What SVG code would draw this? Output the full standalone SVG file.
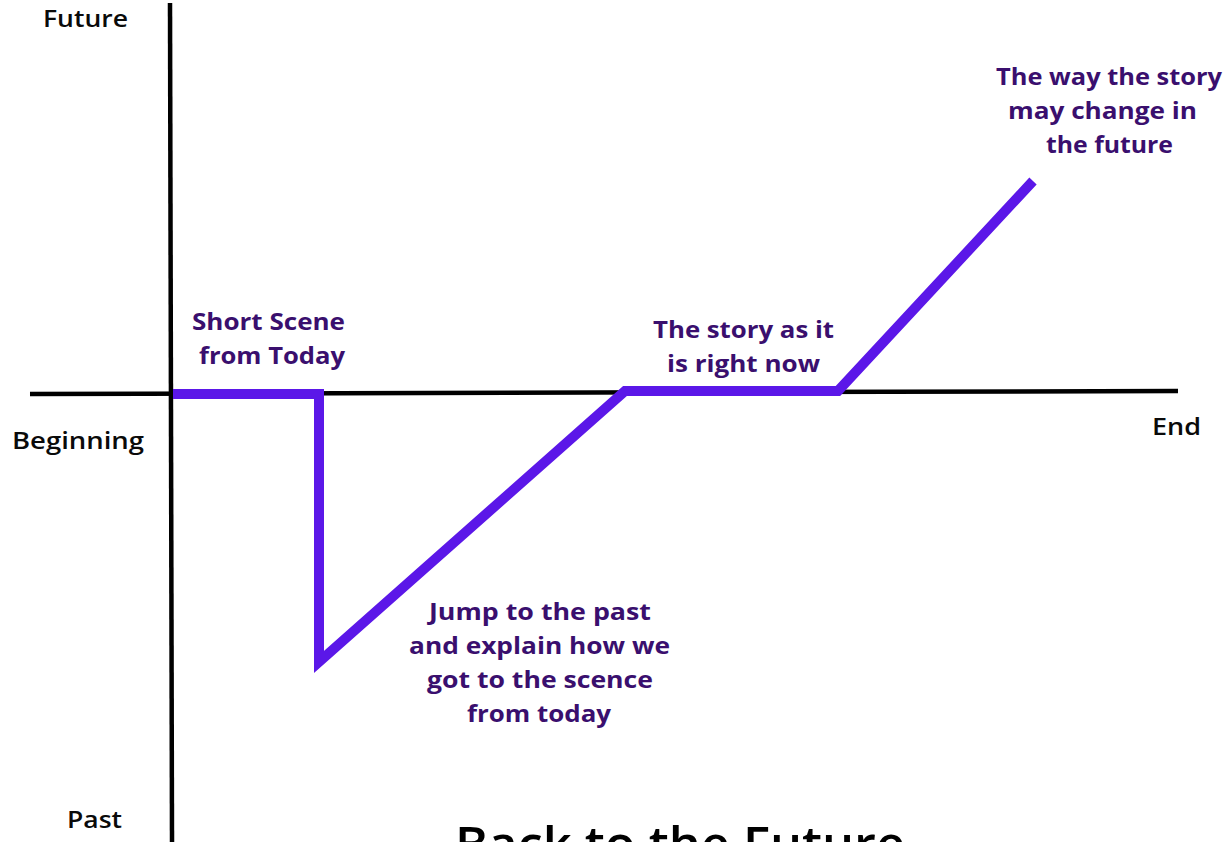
<svg xmlns="http://www.w3.org/2000/svg" width="1230" height="842" viewBox="0 0 1230 842">
<style>
.axis{stroke:#000;stroke-width:4.5;fill:none}
.path{stroke:#5b17e8;stroke-width:10;fill:none;stroke-linejoin:miter;stroke-linecap:butt}
.ax{font-family:"Open Sans","Liberation Sans",sans-serif;font-weight:600;font-size:24px;fill:#0a0a0a}
.lbl{font-family:"Open Sans","Liberation Sans",sans-serif;font-weight:700;font-size:24px;fill:#3a0f6e;text-anchor:middle}
.title{font-family:"Open Sans","Liberation Sans",sans-serif;font-weight:600;font-size:48px;fill:#000;text-anchor:middle}
</style>
<rect width="1230" height="842" fill="#fff"/>
<g id="axes">
<line class="axis" x1="170" y1="3" x2="172" y2="842"/>
<line class="axis" x1="30" y1="394" x2="1178" y2="391"/>
</g>
<g id="connectors">
<polyline class="path" points="173,394 319,394 319,662 625,391 838,391 1033,181"/>
</g>
<g id="axis-labels">
<text class="ax" x="43" y="27" textLength="85" lengthAdjust="spacingAndGlyphs">Future</text>
<text class="ax" x="12" y="449" textLength="132" lengthAdjust="spacingAndGlyphs">Beginning</text>
<text class="ax" x="1152" y="435" textLength="49" lengthAdjust="spacingAndGlyphs">End</text>
<text class="ax" x="67" y="828" textLength="55" lengthAdjust="spacingAndGlyphs">Past</text>
</g>
<g id="node-short-scene">
<text class="lbl" x="268.5" y="330" textLength="153" lengthAdjust="spacingAndGlyphs">Short Scene</text>
<text class="lbl" x="272" y="364" textLength="146" lengthAdjust="spacingAndGlyphs">from Today</text>
</g>
<g id="node-past">
<text class="lbl" x="540" y="620" textLength="222" lengthAdjust="spacingAndGlyphs">Jump to the past</text>
<text class="lbl" x="539.5" y="654" textLength="261" lengthAdjust="spacingAndGlyphs">and explain how we</text>
<text class="lbl" x="540" y="688" textLength="226" lengthAdjust="spacingAndGlyphs">got to the scence</text>
<text class="lbl" x="539" y="722" textLength="144" lengthAdjust="spacingAndGlyphs">from today</text>
</g>
<g id="node-now">
<text class="lbl" x="743.5" y="338" textLength="181" lengthAdjust="spacingAndGlyphs">The story as it</text>
<text class="lbl" x="743.5" y="372" textLength="153" lengthAdjust="spacingAndGlyphs">is right now</text>
</g>
<g id="node-future">
<text class="lbl" x="1109" y="85" textLength="226" lengthAdjust="spacingAndGlyphs">The way the story</text>
<text class="lbl" x="1102.5" y="119" textLength="189" lengthAdjust="spacingAndGlyphs">may change in</text>
<text class="lbl" x="1109.5" y="153" textLength="127" lengthAdjust="spacingAndGlyphs">the future</text>
</g>
<g id="title">
<text class="title" x="680" y="862" textLength="450" lengthAdjust="spacingAndGlyphs">Back to the Future</text>
</g>
</svg>
